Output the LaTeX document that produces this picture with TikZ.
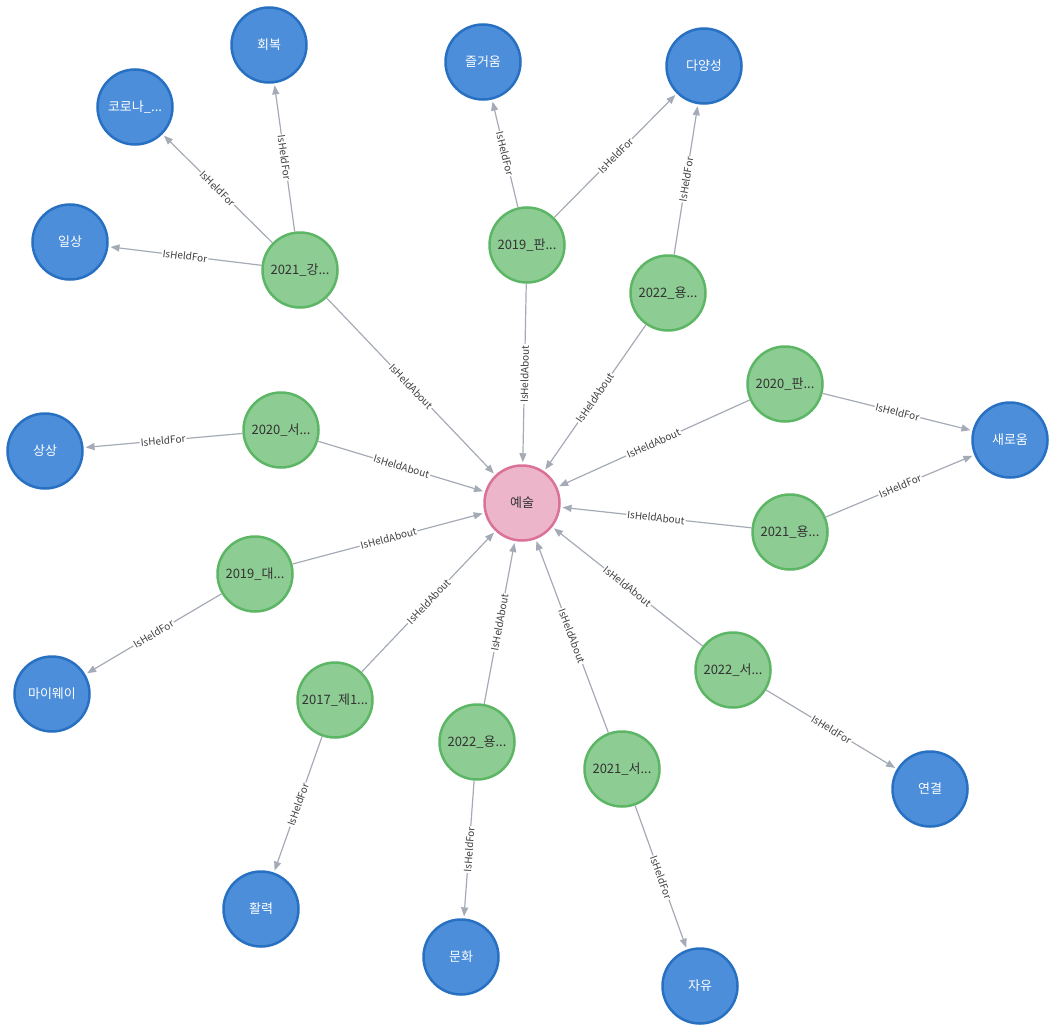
\documentclass[tikz,border=0pt]{standalone}
\usepackage{fontspec}
\setmainfont{Noto Sans CJK KR}
\usetikzlibrary{arrows.meta}
\definecolor{bluefill}{HTML}{4C8EDA}
\definecolor{blueline}{HTML}{2870C2}
\definecolor{greenfill}{HTML}{8DCC93}
\definecolor{greenline}{HTML}{5DB665}
\definecolor{pinkfill}{HTML}{ECB5C9}
\definecolor{pinkline}{HTML}{DA7298}
\definecolor{edgegray}{HTML}{A5ABB6}
\tikzset{
  base/.style={circle,minimum size=75pt,inner sep=0pt,line width=2.5pt,font=\fontsize{13}{13}\selectfont},
  topic/.style={base,fill=bluefill,draw=blueline,text=white},
  event/.style={base,fill=greenfill,draw=greenline,text=black!80},
  field/.style={base,fill=pinkfill,draw=pinkline,text=black!80},
  rel/.style={draw=edgegray,line width=1.2pt,-{Triangle[length=9pt,width=7pt]},shorten >=2pt},
  lbl/.style={sloped,fill=white,inner sep=1pt,text=black!75,font=\fontsize{10}{10}\selectfont}
}
\begin{document}
\begin{tikzpicture}[x=1pt,y=-1pt]
  \useasboundingbox (0,0) rectangle (1054,1030);
  % centre
  \node[field] (art) at (522,503) {예술};
  % topics
  \node[topic] (recover) at (269,45) {회복};
  \node[topic] (corona) at (135,107) {코로나\_...};
  \node[topic] (daily) at (70,242) {일상};
  \node[topic] (joy) at (483,62) {즐거움};
  \node[topic] (diverse) at (704,66) {다양성};
  \node[topic] (imagine) at (45,451) {상상};
  \node[topic] (new) at (1010,440) {새로움};
  \node[topic] (myway) at (52,694) {마이웨이};
  \node[topic] (link) at (930,789) {연결};
  \node[topic] (vigor) at (261,909) {활력};
  \node[topic] (culture) at (461,957) {문화};
  \node[topic] (free) at (700,986) {자유};
  % events
  \node[event] (ev21a) at (300,270) {2021\_강...};
  \node[event] (ev19a) at (527,245) {2019\_판...};
  \node[event] (ev22a) at (668,293) {2022\_용...};
  \node[event] (ev20a) at (785,384) {2020\_판...};
  \node[event] (ev20b) at (281,430) {2020\_서...};
  \node[event] (ev21b) at (790,532) {2021\_용...};
  \node[event] (ev19b) at (255,574) {2019\_대...};
  \node[event] (ev22b) at (733,670) {2022\_서...};
  \node[event] (ev17) at (335,700) {2017\_제1...};
  \node[event] (ev22c) at (477,742) {2022\_용...};
  \node[event] (ev21c) at (622,769) {2021\_서...};
  % held for
  \foreach \a/\b in {ev21a/recover,ev21a/corona,ev21a/daily,ev19a/joy,ev19a/diverse,
      ev22a/diverse,ev20a/new,ev21b/new,ev20b/imagine,ev19b/myway,ev22b/link,
      ev17/vigor,ev22c/culture,ev21c/free}
    \draw[rel] (\a) -- node[lbl] {IsHeldFor} (\b);
  % held about
  \foreach \a in {ev21a,ev19a,ev22a,ev20a,ev20b,ev21b,ev19b,ev22b,ev17,ev22c,ev21c}
    \draw[rel] (\a) -- node[lbl] {IsHeldAbout} (art);
\end{tikzpicture}
\end{document}
